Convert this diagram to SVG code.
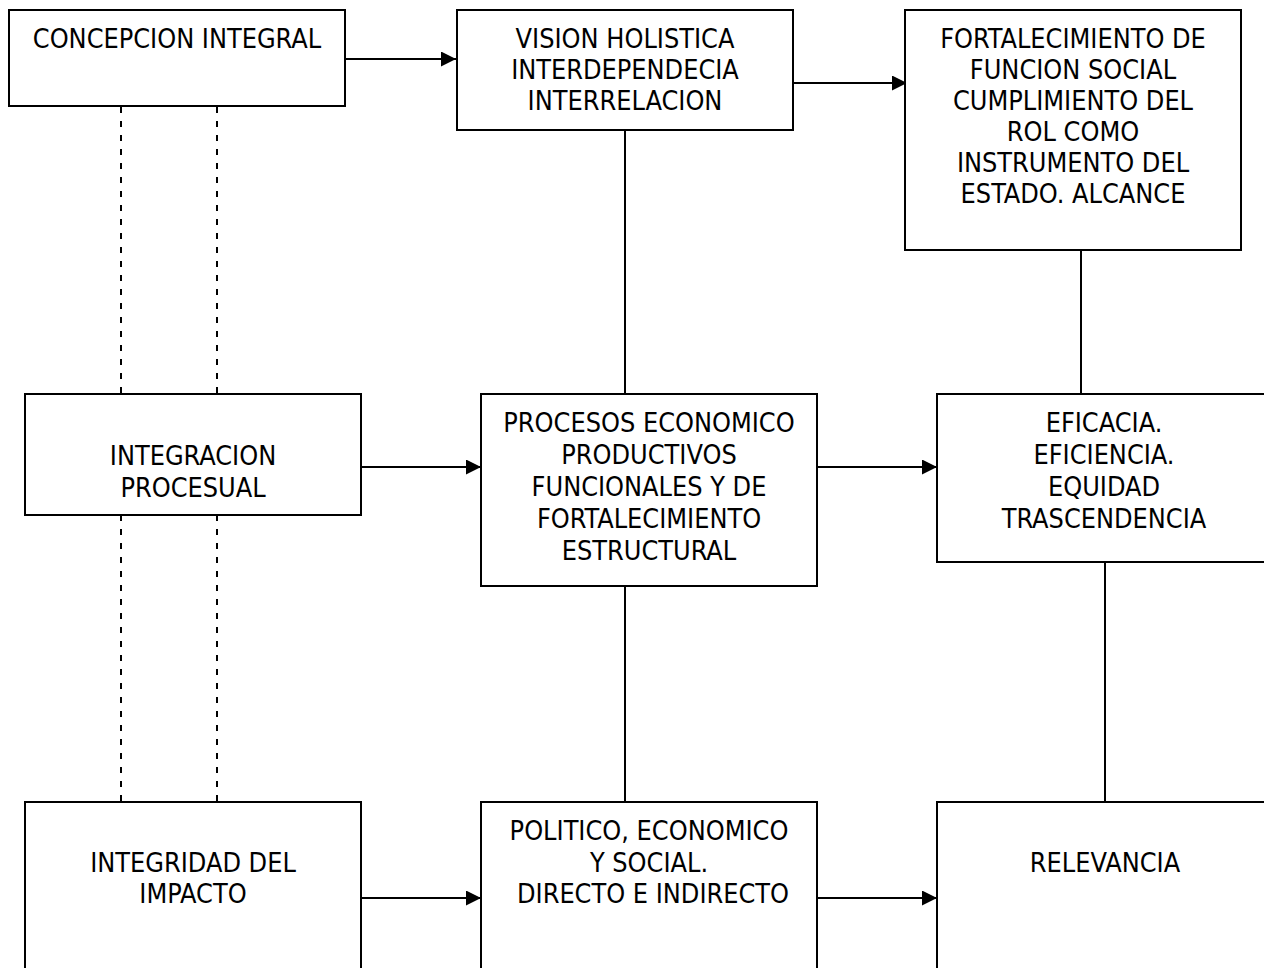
<svg xmlns="http://www.w3.org/2000/svg" width="1264" height="968" viewBox="0 0 1264 968">
<defs>
<style>
.box{fill:#fff;stroke:#000;stroke-width:2}
.t{font-family:"DejaVu Sans Condensed","DejaVu Sans",sans-serif;font-stretch:condensed;font-size:26.8px;fill:#000;text-anchor:middle}
.ln{stroke:#000;stroke-width:2;fill:none}
.dash{stroke:#000;stroke-width:2;fill:none;stroke-dasharray:6 8}
</style>
<marker id="ah" viewBox="0 0 10 10" refX="10" refY="5" markerWidth="15" markerHeight="15" markerUnits="userSpaceOnUse" orient="auto">
<path d="M0,0 L10,5 L0,10 z" fill="#000"/>
</marker>
</defs>
<rect width="1264" height="968" fill="#fff"/>
<g id="connectors">
<line class="dash" x1="121" y1="107" x2="121" y2="394"/>
<line class="dash" x1="217" y1="107" x2="217" y2="394"/>
<line class="dash" x1="121" y1="515" x2="121" y2="802"/>
<line class="dash" x1="217" y1="515" x2="217" y2="802"/>
<line class="ln" x1="625" y1="130" x2="625" y2="394"/>
<line class="ln" x1="625" y1="586" x2="625" y2="802"/>
<line class="ln" x1="1081" y1="250" x2="1081" y2="394"/>
<line class="ln" x1="1105" y1="562" x2="1105" y2="802"/>
<line class="ln" x1="337" y1="59" x2="456" y2="59" marker-end="url(#ah)"/>
<line class="ln" x1="789" y1="83" x2="907" y2="83" marker-end="url(#ah)"/>
<line class="ln" x1="361" y1="467" x2="481" y2="467" marker-end="url(#ah)"/>
<line class="ln" x1="817" y1="467" x2="937" y2="467" marker-end="url(#ah)"/>
<line class="ln" x1="361" y1="898" x2="481" y2="898" marker-end="url(#ah)"/>
<line class="ln" x1="817" y1="898" x2="937" y2="898" marker-end="url(#ah)"/>
</g>
<g id="n1"><rect class="box" x="9" y="10" width="336" height="96"/>
<text class="t" x="177" y="48">CONCEPCION INTEGRAL</text></g>
<g id="n2"><rect class="box" x="457" y="10" width="336" height="120"/>
<text class="t" x="625" y="48">VISION HOLISTICA</text>
<text class="t" x="625" y="79">INTERDEPENDECIA</text>
<text class="t" x="625" y="110">INTERRELACION</text></g>
<g id="n3"><rect class="box" x="905" y="10" width="336" height="240"/>
<text class="t" x="1073" y="48">FORTALECIMIENTO DE</text>
<text class="t" x="1073" y="79">FUNCION SOCIAL</text>
<text class="t" x="1073" y="110">CUMPLIMIENTO DEL</text>
<text class="t" x="1073" y="141">ROL COMO</text>
<text class="t" x="1073" y="172">INSTRUMENTO DEL</text>
<text class="t" x="1073" y="203">ESTADO. ALCANCE</text></g>
<g id="n4"><rect class="box" x="25" y="394" width="336" height="121"/>
<text class="t" x="193" y="465">INTEGRACION</text>
<text class="t" x="193" y="497">PROCESUAL</text></g>
<g id="n5"><rect class="box" x="481" y="394" width="336" height="192"/>
<text class="t" x="649" y="432">PROCESOS ECONOMICO</text>
<text class="t" x="649" y="464">PRODUCTIVOS</text>
<text class="t" x="649" y="496">FUNCIONALES Y DE</text>
<text class="t" x="649" y="528">FORTALECIMIENTO</text>
<text class="t" x="649" y="560">ESTRUCTURAL</text></g>
<g id="n6"><rect class="box" x="937" y="394" width="340" height="168"/>
<text class="t" x="1104" y="432">EFICACIA.</text>
<text class="t" x="1104" y="464">EFICIENCIA.</text>
<text class="t" x="1104" y="496">EQUIDAD</text>
<text class="t" x="1104" y="528">TRASCENDENCIA</text></g>
<g id="n7"><rect class="box" x="25" y="802" width="336" height="180"/>
<text class="t" x="193" y="872">INTEGRIDAD DEL</text>
<text class="t" x="193" y="903">IMPACTO</text></g>
<g id="n8"><rect class="box" x="481" y="802" width="336" height="180"/>
<text class="t" x="649" y="840">POLITICO, ECONOMICO</text>
<text class="t" x="649" y="872">Y SOCIAL.</text>
<text class="t" x="653" y="903">DIRECTO E INDIRECTO</text></g>
<g id="n9"><rect class="box" x="937" y="802" width="340" height="180"/>
<text class="t" x="1105" y="872">RELEVANCIA</text></g>
</svg>
